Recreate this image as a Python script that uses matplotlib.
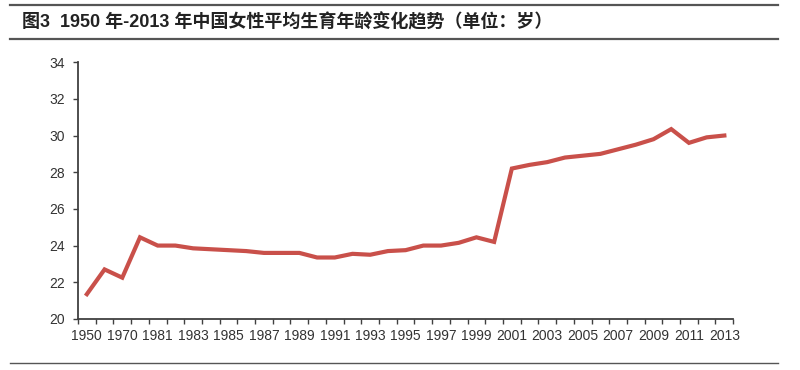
import numpy as np
import matplotlib
matplotlib.use('Agg')
import matplotlib.pyplot as plt
from matplotlib.lines import Line2D

plt.rcParams['font.family'] = ['Liberation Sans', 'Noto Sans CJK SC', 'DejaVu Sans']

## Data
years = ['1950', '1960', '1970', '1980'] + [str(y) for y in range(1981, 2014)]
avg_age = [21.35, 22.7, 22.25, 24.45,                       # 1950-1980
           24.0, 24.0, 23.85, 23.8, 23.75, 23.7, 23.6, 23.6, 23.6, 23.35,   # 1981-1990
           23.35, 23.55, 23.5, 23.7, 23.75, 24.0, 24.0, 24.15, 24.45, 24.2, # 1991-2000
           28.2, 28.4, 28.55, 28.8, 28.9, 29.0, 29.25, 29.5, 29.8, 30.35,   # 2001-2010
           29.6, 29.9, 30.0]                                                # 2011-2013
yticks = [20, 22, 24, 26, 28, 30, 32, 34]
title = '图3  1950 年-2013 年中国女性平均生育年龄变化趋势（单位：岁）'

fig = plt.figure(figsize=(8, 3.7), dpi=100)
ax = fig.add_axes([0.0975, 0.138, 0.819, 0.694])

x = np.arange(len(years))
ax.plot(x, avg_age, color='#C9504A', lw=3.0, solid_joinstyle='miter')

ax.set_xlim(-0.5, len(years) - 0.5)
ax.set_ylim(20, 34)
ax.set_yticks(yticks)

# labels on every other category, tick marks on category boundaries
ax.set_xticks(x[::2])
ax.set_xticklabels(years[::2])
ax.set_xticks(np.arange(-0.5, len(years)), minor=True)
ax.tick_params(axis='x', which='major', length=0, pad=7, labelsize=10, labelcolor='#333333')
ax.tick_params(axis='x', which='minor', length=3.5, width=1, color='#404040', direction='out')
ax.tick_params(axis='y', length=3.5, width=1, color='#404040', direction='out', labelsize=10,
               labelcolor='#333333', pad=6)

for s in ['top', 'right']:
    ax.spines[s].set_visible(False)
for s in ['left', 'bottom']:
    ax.spines[s].set_color('#404040')
    ax.spines[s].set_linewidth(1.3)

## Header / footer rules and title
def hrule(y_px, x0=10, x1=778, lw=1.5, color='#555555'):
    y = 1 - y_px / 370
    fig.add_artist(Line2D([x0 / 800, x1 / 800], [y, y], transform=fig.transFigure,
                          color=color, lw=lw))

hrule(4.5, lw=1.6)
hrule(38.5, lw=1.6)
hrule(362.5, lw=1.0)

fig.text(22 / 800, 1 - 22 / 370, title, fontsize=13, fontweight='bold', color='#222222',
         va='center', ha='left', family=['Liberation Sans', 'Noto Sans CJK SC', 'DejaVu Sans'])

fig.savefig('out.png', dpi=100)
